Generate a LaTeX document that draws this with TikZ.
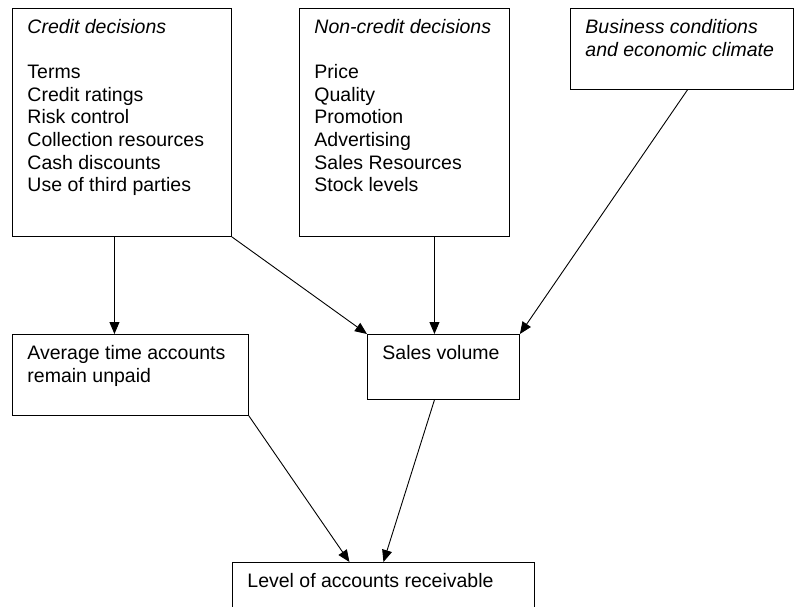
\documentclass[tikz,border=0pt]{standalone}
\usepackage{fontspec}
\setmainfont{Liberation Sans}
\usetikzlibrary{arrows.meta, positioning}

% text block of fixed size, set at the top of its box
\newcommand{\boxtext}[3]{\parbox[c][#2][t]{#1}{\raggedright\vspace*{11pt}#3}}

\begin{document}
\begin{tikzpicture}[x=1pt, y=-1pt,
    box/.style={draw, line width=0.9pt, inner xsep=15pt, inner ysep=0pt, anchor=north west,
      font=\fontsize{19.5}{22.6}\selectfont},
    arr/.style={-{Triangle[length=12pt, width=10pt]}, line width=0.9pt}]
    \useasboundingbox (0,0) rectangle (795,607);

    % Decision boxes
    \node[box] (credit) at (12,8) {\boxtext{189pt}{228pt}{\textit{Credit decisions}\\[22.6pt]
      Terms\\ Credit ratings\\ Risk control\\ Collection resources\\ Cash discounts\\ Use of third parties}};
    \node[box] (noncredit) at (299,8) {\boxtext{180pt}{228pt}{\textit{Non-credit decisions}\\[22.6pt]
      Price\\ Quality\\ Promotion\\ Advertising\\ Sales Resources\\ Stock levels}};
    \node[box] (business) at (570,8) {\boxtext{193pt}{81pt}{\textit{Business conditions}\\
      \textit{and economic climate}}};

    % Middle row
    \node[box] (avg) at (12,334) {\boxtext{206pt}{81pt}{Average time accounts\\ remain unpaid}};
    \node[box] (sales) at (367,334) {\boxtext{122pt}{65pt}{Sales volume}};

    % Result
    \node[box] (level) at (232,562) {\boxtext{272pt}{80pt}{Level of accounts receivable}};

    % Arrows
    \draw[arr] ([xshift=-7.5pt]credit.south) -- ([xshift=-7.5pt]credit.south |- avg.north);
    \draw[arr] (credit.south east) -- (sales.north west);
    \draw[arr] ([xshift=-9pt]sales.north |- noncredit.south) -- ([xshift=-9pt]sales.north);
    \draw[arr] ([xshift=5.5pt]business.south) -- (sales.north east);
    \draw[arr] (avg.south east) -- ([xshift=-34pt]level.north);
    \draw[arr] ([xshift=-9pt]sales.south) -- (level.north);
\end{tikzpicture}
\end{document}
